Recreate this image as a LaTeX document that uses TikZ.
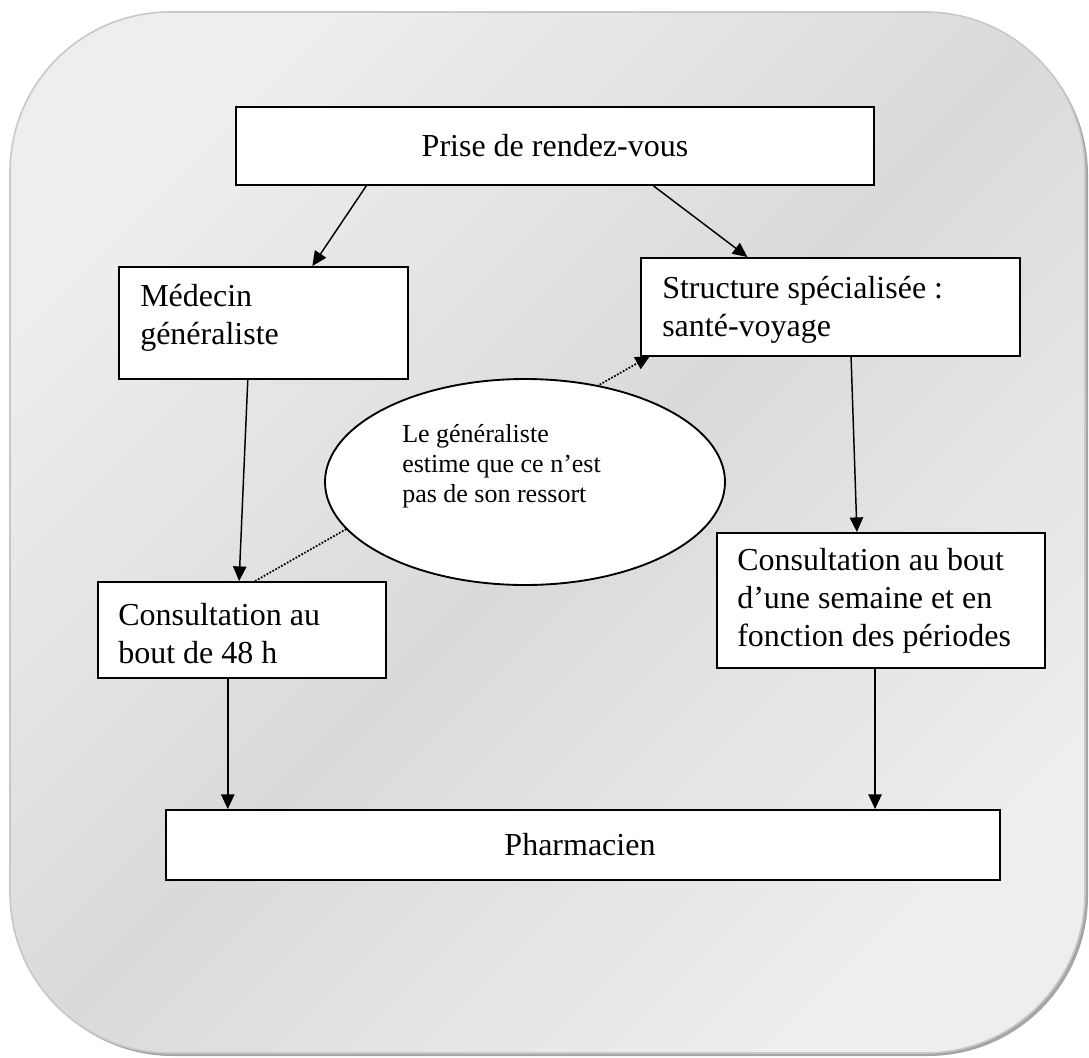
\documentclass[tikz,border=0pt]{standalone}
\usepackage{fontspec}
\setmainfont{Liberation Serif}
\usetikzlibrary{arrows.meta,calc,shapes.geometric}
\pgfdeclarelayer{bg}
\pgfdeclarelayer{back}
\pgfsetlayers{bg,back,main}
\definecolor{bglight}{RGB}{238,238,238}
\definecolor{bgdark}{RGB}{218,218,218}
\definecolor{bgline}{RGB}{200,200,200}
\definecolor{bgshadow}{RGB}{165,165,165}
\begin{document}
\begin{tikzpicture}[x=0.75pt,y=-0.75pt,
  box/.style={draw=black, line width=1.4pt, fill=white, rectangle, inner sep=0pt},
  txt/.style={inner sep=0pt, align=left, font=\fontsize{24}{28.5}\selectfont},
  smalltxt/.style={inner sep=0pt, align=left, font=\fontsize{19.5}{22.5}\selectfont},
  arr/.style={line width=1.1pt, -{Triangle[length=11pt,width=10pt]}},
  dotarr/.style={line width=1.3pt, dash pattern=on 1.3pt off 1.2pt, -{Triangle[length=11pt,width=10pt]}},
]
\useasboundingbox (0,0) rectangle (1089,1057);
\begin{pgfonlayer}{bg}
\fill[bgshadow, rounded corners=120pt] (13,15) rectangle (1088,1056);
\shade[top color=bglight, bottom color=bglight, middle color=bgdark, shading angle=45, rounded corners=120pt] (10,12) rectangle (1085,1053);
\draw[bgline, line width=1.2pt, rounded corners=120pt] (10,12) rectangle (1085,1053);
\end{pgfonlayer}

% boxes
\node[box, minimum width=638*0.75pt, minimum height=78*0.75pt] (prise) at (555,146) {};
\node[box, minimum width=289*0.75pt, minimum height=112*0.75pt] (med) at (263.5,323) {};
\node[box, minimum width=379*0.75pt, minimum height=98*0.75pt] (str) at (830.5,307) {};
\node[box, minimum width=288*0.75pt, minimum height=96*0.75pt] (c48) at (242,630) {};
\node[box, minimum width=328*0.75pt, minimum height=135*0.75pt] (sem) at (881,600.5) {};
\node[box, minimum width=834*0.75pt, minimum height=70*0.75pt] (pharm) at (583,845) {};
\node[draw=black, line width=1.4pt, fill=white, ellipse, inner sep=0pt, minimum width=400*0.75pt, minimum height=206*0.75pt] (ell) at (525,482) {};

% texts
\node[txt, anchor=center] (prisetxt) at (555,146) {Prise de rendez-vous};
\node[txt, anchor=west] (medtxt) at (140,318) {Médecin\\généraliste};
\node[txt, anchor=west] (strtxt) at (662,310) {Structure spécialisée :\\santé-voyage};
\node[txt, anchor=west] (semtxt) at (737,601) {Consultation au bout\\d’une semaine et en\\fonction des périodes};
\node[txt, anchor=west] (c48txt) at (118,634) {Consultation au\\bout de 48 h};
\node[txt, anchor=center] (pharmtxt) at (580,845) {Pharmacien};
\node[smalltxt, anchor=west] (elltxt) at (402,466) {Le généraliste\\estime que ce n’est\\pas de son ressort};

% connector end points
\coordinate (a1s) at ($(prise.south west)!0.205!(prise.south east)$);
\coordinate (a1e) at ($(med.north west)!0.668!(med.north east)$);
\coordinate (a2s) at ($(prise.south west)!0.654!(prise.south east)$);
\coordinate (a2e) at ($(str.north west)!0.282!(str.north east)$);
\coordinate (a3s) at ($(med.south west)!0.446!(med.south east)$);
\coordinate (a3e) at ($(c48.north west)!0.49!(c48.north east)$);
\coordinate (a4s) at ($(str.south west)!0.554!(str.south east)$);
\coordinate (a4e) at ($(sem.north west)!0.427!(sem.north east)$);
\coordinate (a5s) at ($(c48.south west)!0.451!(c48.south east)$);
\coordinate (a6s) at ($(sem.south west)!0.482!(sem.south east)$);
\coordinate (ds) at ($(c48.north west)!0.545!(c48.north east)$);
\coordinate (de) at ($(str.south west)+(10,-1)$);

\draw[arr] (a1s) -- (a1e);
\draw[arr] (a2s) -- (a2e);
\draw[arr] (a3s) -- (a3e);
\draw[arr] (a4s) -- (a4e);
\draw[arr] (a5s) -- (a5s |- pharm.north);
\draw[arr] (a6s) -- (a6s |- pharm.north);
\begin{pgfonlayer}{back}
\draw[dotarr] (ds) -- (de);
\end{pgfonlayer}
\end{tikzpicture}
\end{document}
